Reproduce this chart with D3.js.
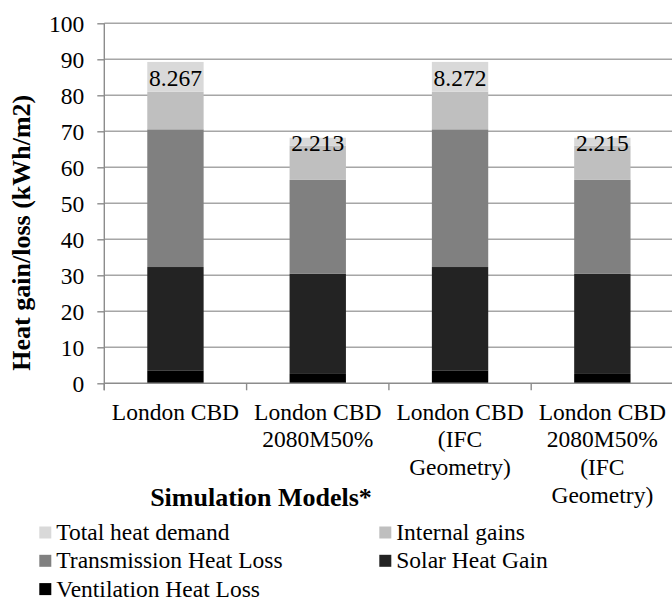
<!DOCTYPE html>
<html>
<head>
<meta charset="utf-8">
<script src="https://cdn.jsdelivr.net/npm/d3@7"></script>
</head>
<body style="margin:0;background:#fff">
<svg width="672" height="601"></svg>
<script>
// data
var categories = [
  ["London CBD"],
  ["London CBD", "2080M50%"],
  ["London CBD", "(IFC", "Geometry)"],
  ["London CBD", "2080M50%", "(IFC", "Geometry)"]
];
var seriesNames = ["Ventilation Heat Loss", "Solar Heat Gain", "Transmission Heat Loss", "Internal gains", "Total heat demand"];
var ventilation = [3.6, 2.6, 3.6, 2.6];
var solar = [28.7, 27.8, 28.7, 27.8];
var transmission = [38.25, 26.1, 38.25, 26.1];
var internalGains = [10.45, 9.5, 10.45, 9.5];
var totalDemand = [8.267, 2.213, 8.272, 2.215];
var yTicks = [0, 10, 20, 30, 40, 50, 60, 70, 80, 90, 100];
var colors = ["#000000", "#232323", "#808080", "#bfbfbf", "#d9d9d9"];

var FONT = "Liberation Serif";
var svg = d3.select("svg").style("font-family", FONT),
    width = +svg.attr("width"),
    height = +svg.attr("height");

var x0 = 104.3, x1 = 673.5, yBottom = 383.3, yTop = 23.3;

// scales
var xScale = d3.scaleBand()
               .domain(d3.range(categories.length))
               .range([x0, x1])
               .paddingInner(0.604)
               .paddingOuter(0.302);
var yScale = d3.scaleLinear()
               .domain([0, 100])
               .range([yBottom, yTop]);

// gridlines
svg.append("g").selectAll("line")
    .data(yTicks.slice(1))
  .enter().append("line")
    .attr("x1", x0).attr("x2", width)
    .attr("y1", function(d) { return yScale(d); })
    .attr("y2", function(d) { return yScale(d); })
    .attr("stroke", "#a6a6a6")
    .attr("stroke-width", 1.4);

// stacked data
var rows = categories.map(function(c, i) {
  return [ventilation[i], solar[i], transmission[i], internalGains[i], totalDemand[i]];
});
var stack = d3.stack().keys(d3.range(5));
var layers = stack(rows);

var g = svg.append("g");
layers.forEach(function(layer, k) {
  g.selectAll(null)
      .data(layer)
    .enter().append("rect")
      .attr("x", function(d, i) { return xScale(i); })
      .attr("width", xScale.bandwidth())
      .attr("y", function(d) { return yScale(d[1]); })
      .attr("height", function(d) { return yScale(d[0]) - yScale(d[1]); })
      .attr("fill", colors[k]);
});

// value labels on total heat demand
var topLayer = layers[4];
g.selectAll("text.val")
    .data(topLayer)
  .enter().append("text")
    .attr("class", "val")
    .attr("x", function(d, i) { return xScale(i) + xScale.bandwidth() / 2; })
    .attr("y", function(d) { return (yScale(d[0]) + yScale(d[1])) / 2 + 9; })
    .attr("text-anchor", "middle")
    .style("font-family", FONT)
    .attr("font-size", "23.5px")
    .text(function(d, i) { return totalDemand[i].toFixed(3); });

// y axis
var yAxis = svg.append("g")
    .attr("transform", "translate(" + x0 + ",0)")
    .call(d3.axisLeft(yScale).tickValues(yTicks).tickSize(7).tickPadding(13));
yAxis.attr("font-family", null).attr("font-size", null);
yAxis.select(".domain").attr("stroke", "#8c8c8c").attr("stroke-width", 1.4)
     .attr("d", "M0," + yTop + "V" + (yBottom + 7));
yAxis.selectAll(".tick line").attr("stroke", "#8c8c8c").attr("stroke-width", 1.4);
yAxis.selectAll(".tick text")
     .style("font-family", FONT)
     .attr("font-size", "23.5px").attr("fill", "#000")
     .attr("dy", "0.34em");

// x axis
var step = xScale.step();
var xAxis = svg.append("g");
xAxis.append("line")
    .attr("x1", x0).attr("x2", width)
    .attr("y1", yBottom).attr("y2", yBottom)
    .attr("stroke", "#8c8c8c").attr("stroke-width", 1.4);
xAxis.selectAll("line.tk")
    .data(d3.range(categories.length + 1))
  .enter().append("line")
    .attr("class", "tk")
    .attr("x1", function(d) { return x0 + d * step; })
    .attr("x2", function(d) { return x0 + d * step; })
    .attr("y1", yBottom).attr("y2", yBottom + 7)
    .attr("stroke", "#8c8c8c").attr("stroke-width", 1.4);

var lab = svg.append("g").attr("font-size", "23.5px").attr("text-anchor", "middle");
categories.forEach(function(lines, i) {
  var t = lab.append("text")
      .style("font-family", FONT)
      .attr("x", xScale(i) + xScale.bandwidth() / 2)
      .attr("y", 419.5);
  lines.forEach(function(l, j) {
    t.append("tspan")
      .attr("x", xScale(i) + xScale.bandwidth() / 2)
      .attr("dy", j === 0 ? 0 : 27.8)
      .text(l);
  });
});

// axis titles
svg.append("text")
    .attr("x", 261).attr("y", 505.5)
    .attr("text-anchor", "middle")
    .style("font-family", FONT)
    .attr("font-weight", "bold")
    .attr("font-size", "26px")
    .text("Simulation Models*");
svg.append("text")
    .attr("transform", "translate(29.5,232.7) rotate(-90)")
    .attr("text-anchor", "middle")
    .style("font-family", FONT)
    .attr("font-weight", "bold")
    .attr("font-size", "26px")
    .text("Heat gain/loss (kWh/m2)");

// legend
var legendItems = [
  {name: seriesNames[4], color: colors[4], col: 0, row: 0},
  {name: seriesNames[3], color: colors[3], col: 1, row: 0},
  {name: seriesNames[2], color: colors[2], col: 0, row: 1},
  {name: seriesNames[1], color: colors[1], col: 1, row: 1},
  {name: seriesNames[0], color: colors[0], col: 0, row: 2}
];
var legend = svg.append("g").attr("class", "legend");
legendItems.forEach(function(d) {
  var lx = d.col === 0 ? 39.3 : 379.3;
  var ly = 532.5 + d.row * 28.3;
  legend.append("rect")
    .attr("x", lx).attr("y", ly - 6)
    .attr("width", 12).attr("height", 12)
    .attr("fill", d.color);
  legend.append("text")
    .attr("x", lx + 17).attr("y", ly + 7.5)
    .style("font-family", FONT)
    .attr("font-size", "23.5px")
    .text(d.name);
});
</script>
</body>
</html>
